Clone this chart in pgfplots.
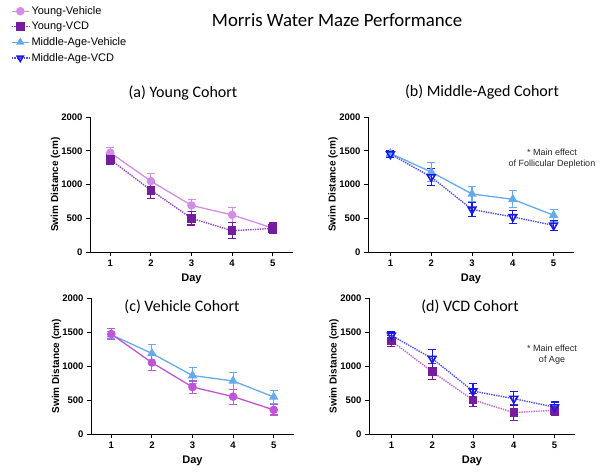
\documentclass[border=0pt]{standalone}
\usepackage{fontspec}
\setmainfont{Liberation Sans}
\newfontfamily\titlefont{Carlito}
\usepackage{pgfplots}
\pgfplotsset{compat=1.18}

\definecolor{yveh}{RGB}{212,140,232}
\definecolor{yvehc}{RGB}{192,84,214}
\definecolor{yvcd}{RGB}{118,28,158}
\definecolor{yvcdline}{RGB}{150,70,190}
\definecolor{yvcdd}{RGB}{205,100,210}
\definecolor{mveh}{RGB}{102,170,238}
\definecolor{mvcd}{RGB}{24,24,232}
\definecolor{mvcdline}{RGB}{80,80,235}

\pgfplotsset{
  mwm/.style={
    scale only axis, height=135pt, ymin=0, ymax=2000,
    axis lines=left, axis line style={-, line width=1pt, black},
    tick align=outside, major tick length=4pt,
    tick style={black, line width=0.9pt},
    xtick={1,2,3,4,5}, xticklabels={1,2,3,4,5},
    ytick={0,500,1000,1500,2000}, yticklabels={0,500,1000,1500,2000},
    ticklabel style={font=\bfseries\fontsize{9.5}{10}\selectfont},
    xlabel={Day}, ylabel={Swim Distance (cm)},
    xlabel style={font=\bfseries\fontsize{11}{12}\selectfont, at={(axis description cs:0.5,0)}, anchor=center, yshift=-27pt},
    ylabel style={font=\bfseries\fontsize{10}{11}\selectfont, at={(axis description cs:-0.17,0.5)}, anchor=center},
    clip=false,
    error bars/y dir=both, error bars/y explicit,
  },
  pa/.style={mwm, width=203pt, xmin=0.5, xmax=5.5},
  pb/.style={mwm, width=206pt, xmin=0.45, xmax=5.5},
  yv/.style={color=#1, line width=1.3pt, mark=*, mark size=3.6pt,
    error bars/error bar style={line width=1.1pt, color=#1},
    error bars/error mark options={rotate=90, mark size=4pt, line width=1.1pt, color=#1}},
  yc/.style={color=#1, densely dotted, line width=1.4pt, mark=square*, mark size=3.6pt,
    mark options={solid, fill=yvcd, draw=yvcd},
    error bars/error bar style={solid, line width=1.1pt, color=yvcd},
    error bars/error mark options={solid, rotate=90, mark size=4pt, line width=1.1pt, color=yvcd}},
  mv/.style={color=mveh, line width=1.3pt, mark=triangle*, mark size=4.2pt,
    error bars/error bar style={line width=1.1pt, color=mveh},
    error bars/error mark options={rotate=90, mark size=4pt, line width=1.1pt, color=mveh}},
  mc/.style={color=mvcdline, densely dotted, line width=1.4pt, mark=triangle, mark size=4.4pt,
    mark options={solid, rotate=180, draw=mvcd, fill=white, line width=1.6pt},
    error bars/error bar style={solid, line width=1.1pt, color=mvcd},
    error bars/error mark options={solid, rotate=90, mark size=4pt, line width=1.1pt, color=mvcd}},
}

\begin{document}
\begin{tikzpicture}
\useasboundingbox (0pt,0pt) rectangle (604pt,474pt);

% (a) Young cohort
\begin{axis}[pa, at={(90pt,222pt)}, anchor=south west,
  legend style={at={(axis description cs:-0.39,1.835)}, anchor=north west, draw=none, fill=none,
    font=\fontsize{11}{12}\selectfont, row sep=2.2pt, inner sep=0pt, cells={anchor=west}},
  legend cell align=left]
\addplot[yv=yveh] coordinates {(1,1470) +- (0,75) (2,1050) +- (0,115) (3,690) +- (0,90) (4,550) +- (0,110) (5,355) +- (0,75)};
\addplot[yc=yvcdline] coordinates {(1,1370) +- (0,80) (2,915) +- (0,120) (3,500) +- (0,100) (4,315) +- (0,120) (5,350) +- (0,80)};
\addlegendimage{color=mveh, line width=1.3pt, mark=triangle*, mark size=3.6pt}
\addlegendimage{color=mvcdline, densely dotted, line width=1.4pt, mark=triangle, mark size=3.6pt, mark options={solid, rotate=180, draw=mvcd, line width=1.5pt}}
\legend{Young-Vehicle, Young-VCD, Middle-Age-Vehicle, Middle-Age-VCD}
\end{axis}

% (b) Middle-aged cohort
\begin{axis}[pb, at={(368pt,222pt)}, anchor=south west]
\addplot[mv] coordinates {(1,1460) +- (0,50) (2,1185) +- (0,135) (3,860) +- (0,115) (4,780) +- (0,125) (5,545) +- (0,90)};
\addplot[mc] coordinates {(1,1450) +- (0,50) (2,1110) +- (0,130) (3,630) +- (0,110) (4,520) +- (0,100) (5,395) +- (0,75)};
\end{axis}

% (c) Vehicle cohort
\begin{axis}[pa, at={(91pt,40pt)}, anchor=south west, height=136pt]
\addplot[mv] coordinates {(1,1460) +- (0,50) (2,1185) +- (0,135) (3,860) +- (0,115) (4,780) +- (0,125) (5,545) +- (0,90)};
\addplot[yv=yvehc] coordinates {(1,1470) +- (0,75) (2,1050) +- (0,115) (3,690) +- (0,90) (4,550) +- (0,110) (5,355) +- (0,75)};
\end{axis}

% (d) VCD cohort
\begin{axis}[pb, at={(369pt,40pt)}, anchor=south west, height=136pt]
\addplot[yc=yvcdd] coordinates {(1,1370) +- (0,80) (2,915) +- (0,120) (3,500) +- (0,100) (4,315) +- (0,120) (5,350) +- (0,80)};
\addplot[mc] coordinates {(1,1450) +- (0,50) (2,1110) +- (0,130) (3,630) +- (0,110) (4,520) +- (0,100) (5,395) +- (0,75)};
\end{axis}

% titles
\node[font=\titlefont\fontsize{18.8}{21}\selectfont] at (337pt,454pt) {Morris Water Maze Performance};
\node[font=\titlefont\fontsize{16}{18}\selectfont] at (183pt,381pt) {(a) Young Cohort};
\node[font=\titlefont\fontsize{16}{18}\selectfont] at (482pt,382pt) {(b) Middle-Aged Cohort};
\node[font=\titlefont\fontsize{16}{18}\selectfont] at (182pt,167pt) {(c) Vehicle Cohort};
\node[font=\titlefont\fontsize{16}{18}\selectfont] at (470pt,167pt) {(d) VCD Cohort};
% annotations
\node[font=\fontsize{9}{11}\selectfont, text=black!85, align=center] at (552pt,315pt) {* Main effect\\of Follicular Depletion};
\node[font=\fontsize{9}{11}\selectfont, text=black!85, align=center] at (552pt,119pt) {* Main effect\\of Age};
\end{tikzpicture}
\end{document}
